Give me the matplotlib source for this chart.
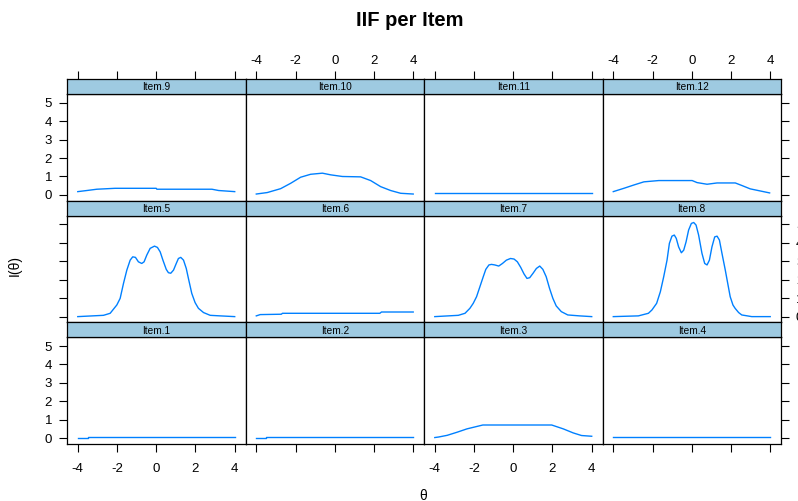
import matplotlib
matplotlib.use("Agg")
import matplotlib.pyplot as plt

plt.rcParams['font.family'] = ['Liberation Sans', 'DejaVu Sans']
plt.rcParams['axes.unicode_minus'] = False

# ---- data (theta, information) ----
item1_theta = [-4.0, -3.5, -3.5, 4.0]
item1_info = [0.04, 0.04, 0.09, 0.09]

item2_theta = [-4.0, -3.5, -3.5, 4.0]
item2_info = [0.04, 0.04, 0.09, 0.09]

item3_theta = [-4.0, -3.8, -3.37, -2.86, -2.36, -1.55, 1.96, 2.55, 3.06, 3.48, 4.0]
item3_info = [0.04, 0.07, 0.16, 0.33, 0.51, 0.72, 0.72, 0.51, 0.29, 0.15, 0.11]

item4_theta = [-4.0, 4.0]
item4_info = [0.09, 0.09]

item5_theta = [-4.0, -2.69, -2.35, -2.01, -1.84, -1.67, -1.5, -1.33, -1.2, -1.06,
               -0.91, -0.74, -0.62, -0.48, -0.31, -0.09, 0.06, 0.2, 0.34, 0.51,
               0.62, 0.74, 0.88, 1.02, 1.13, 1.25, 1.39, 1.53, 1.64, 1.81,
               1.98, 2.15, 2.41, 2.75, 3.26, 4.0]
item5_info = [0.0, 0.07, 0.18, 0.63, 0.99, 1.8, 2.52, 3.06, 3.24, 3.21,
              2.97, 2.88, 2.97, 3.34, 3.7, 3.82, 3.75, 3.51, 3.06, 2.56,
              2.38, 2.35, 2.52, 2.88, 3.15, 3.21, 3.06, 2.61, 2.07, 1.26,
              0.76, 0.45, 0.22, 0.07, 0.04, 0.0]

item6_theta = [-4.0, -3.8, -2.72, -2.67, 2.3, 2.38, 4.0]
item6_info = [0.04, 0.11, 0.13, 0.18, 0.18, 0.25, 0.25]

item7_theta = [-4.0, -2.8, -2.46, -2.21, -2.04, -1.87, -1.7, -1.53, -1.4, -1.24,
               -1.11, -0.94, -0.74, -0.55, -0.35, -0.14, 0.04, 0.21, 0.38, 0.55,
               0.7, 0.84, 1.01, 1.18, 1.35, 1.51, 1.68, 1.85, 2.02, 2.19,
               2.45, 2.78, 3.38, 4.0]
item7_info = [0.0, 0.07, 0.18, 0.45, 0.72, 1.08, 1.62, 2.16, 2.56, 2.8,
              2.83, 2.8, 2.74, 2.88, 3.06, 3.15, 3.12, 2.97, 2.67, 2.31,
              2.07, 2.11, 2.35, 2.61, 2.74, 2.56, 2.16, 1.53, 0.99, 0.58,
              0.27, 0.09, 0.04, 0.0]

item8_theta = [-4.0, -2.72, -2.21, -2.03, -1.79, -1.6, -1.43, -1.26, -1.14, -1.01,
               -0.89, -0.79, -0.67, -0.53, -0.41, -0.29, -0.16, -0.02, 0.1, 0.22,
               0.35, 0.52, 0.66, 0.78, 0.9, 1.03, 1.17, 1.29, 1.41, 1.54,
               1.71, 1.85, 1.96, 2.1, 2.21, 2.39, 2.55, 3.06, 4.0]
item8_info = [0.0, 0.04, 0.18, 0.36, 0.72, 1.35, 2.16, 3.06, 3.97, 4.36,
              4.42, 4.24, 3.78, 3.46, 3.6, 4.05, 4.69, 5.05, 5.1, 4.96,
              4.42, 3.43, 2.88, 2.8, 3.06, 3.78, 4.32, 4.36, 4.15, 3.43,
              2.52, 1.71, 1.08, 0.63, 0.45, 0.22, 0.09, 0.0, 0.0]

item9_theta = [-4.0, -3.54, -3.03, -2.1, 0.0, 0.03, 2.84, 3.18, 4.0]
item9_info = [0.18, 0.24, 0.31, 0.36, 0.36, 0.31, 0.31, 0.24, 0.18]

item10_theta = [-4.0, -3.44, -2.76, -2.25, -1.74, -1.23, -0.63, -0.21, 0.39, 1.32,
                1.83, 2.34, 2.85, 3.36, 4.0]
item10_info = [0.05, 0.13, 0.34, 0.63, 0.96, 1.12, 1.18, 1.09, 1.0, 0.98,
               0.78, 0.45, 0.24, 0.09, 0.05]

item11_theta = [-4.0, 4.0]
item11_info = [0.13, 0.13]

item12_theta = [-4.0, -3.46, -2.95, -2.44, -1.68, 0.02, 0.27, 0.78, 1.29, 2.22,
                2.56, 2.98, 3.97]
item12_info = [0.18, 0.36, 0.54, 0.71, 0.78, 0.78, 0.67, 0.58, 0.65, 0.65,
               0.51, 0.33, 0.11]

item_names = ["Item.1", "Item.2", "Item.3", "Item.4",
              "Item.5", "Item.6", "Item.7", "Item.8",
              "Item.9", "Item.10", "Item.11", "Item.12"]
item_thetas = [item1_theta, item2_theta, item3_theta, item4_theta,
               item5_theta, item6_theta, item7_theta, item8_theta,
               item9_theta, item10_theta, item11_theta, item12_theta]
item_infos = [item1_info, item2_info, item3_info, item4_info,
              item5_info, item6_info, item7_info, item8_info,
              item9_info, item10_info, item11_info, item12_info]

x_ticks = [-4, -2, 0, 2, 4]
y_ticks = [0, 1, 2, 3, 4, 5]

# ---- layout ----
W, H = 798, 501
fig = plt.figure(figsize=(W / 100, H / 100), dpi=100)

col_x = [67, 245.5, 424, 602.5, 781]
top0 = 79.0
strip_h = 15.0
panel_h = 106.67
row_h = strip_h + panel_h

XLIM = (-4.55, 4.55)
YLIM = (-0.31, 5.47)
line_color = "#0080ff"
strip_color = "#9ecae1"
tick_len = 5.8
tick_w = 0.8
lab_fs = 9.5

def fx(px):
    return px / W

def fy(py):
    return 1 - py / H

for r in range(3):  # r=0 top row
    strip_top = top0 + r * row_h
    strip_bot = strip_top + strip_h
    panel_bot = strip_bot + panel_h
    for c in range(4):
        idx = (2 - r) * 4 + c
        x0, x1 = col_x[c], col_x[c + 1]
        ax = fig.add_axes([fx(x0), fy(panel_bot), (x1 - x0) / W, panel_h / H])
        ax.plot(item_thetas[idx], item_infos[idx], color=line_color, lw=1.0)
        ax.set_xlim(*XLIM)
        ax.set_ylim(*YLIM)
        for s in ax.spines.values():
            s.set_linewidth(0.9)
        ax.set_xticks(x_ticks)
        ax.set_yticks(y_ticks)
        ax.tick_params(direction='out', length=tick_len, width=tick_w,
                       labelsize=lab_fs, colors='black')
        if r == 2:
            ax.tick_params(axis='x', bottom=True, top=False,
                           labelbottom=(c % 2 == 0), labeltop=False, pad=8)
        else:
            ax.tick_params(axis='x', bottom=False, top=False,
                           labelbottom=False, labeltop=False)
        left = (c == 0)
        right = (c == 3)
        ax.tick_params(axis='y', left=left, right=right,
                       labelleft=(left and r != 1), labelright=(right and r == 1),
                       pad=5)
        sax = fig.add_axes([fx(x0), fy(strip_bot), (x1 - x0) / W, strip_h / H])
        sax.set_facecolor(strip_color)
        sax.set_xlim(*XLIM)
        sax.set_ylim(0, 1)
        sax.set_yticks([])
        for s in sax.spines.values():
            s.set_linewidth(0.9)
        sax.text(0.5, 0.45, item_names[idx], transform=sax.transAxes,
                 ha='center', va='center', fontsize=7.3)
        if r == 0:
            sax.set_xticks(x_ticks)
            sax.tick_params(axis='x', direction='out', length=tick_len, width=tick_w,
                            bottom=False, top=True, labelbottom=False,
                            labeltop=(c % 2 == 1), labelsize=lab_fs, pad=2.5)
        else:
            sax.set_xticks([])

fig.text(fx(410), fy(20), "IIF per Item", ha='center', va='center',
         fontsize=14.5, fontweight='bold')
fig.text(fx(15), fy(266), "I(θ)", ha='center', va='center', rotation=90, fontsize=10)
fig.text(fx(423), fy(489), "θ", ha='center', va='top', fontsize=10)

fig.savefig("out.png", dpi=100)
